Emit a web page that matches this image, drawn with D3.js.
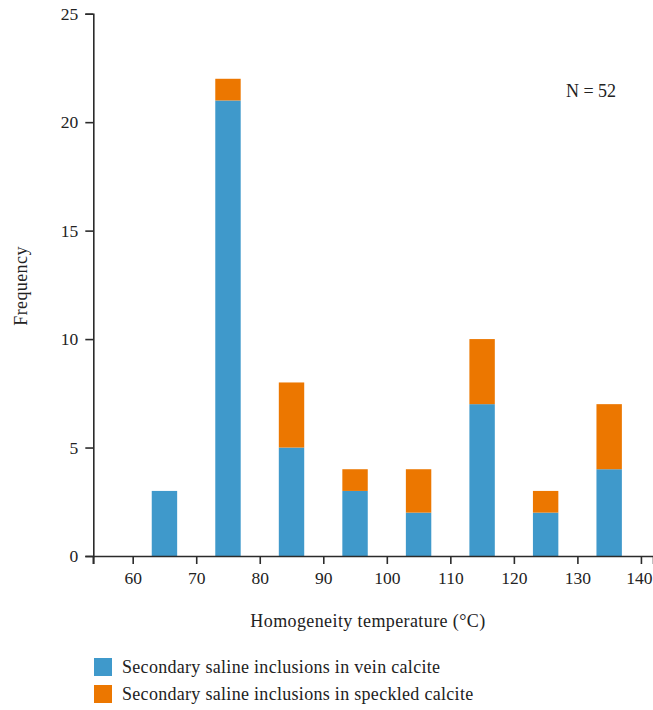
<!DOCTYPE html>
<html>
<head>
<meta charset="utf-8">
<script src="https://cdn.jsdelivr.net/npm/d3@7/dist/d3.min.js"></script>
<style>
  html, body { margin: 0; padding: 0; background: #fff; }
  svg { display: block; font-family: "Liberation Serif", "DejaVu Serif", serif; }
</style>
</head>
<body>
<svg id="chart" width="653" height="710"></svg>
<script>
// Bin centres (°C), 10-degree classes
const binCenters = [65, 75, 85, 95, 105, 115, 125, 135];
// Counts per bin for each inclusion type
const veinCounts = [3, 21, 5, 3, 2, 7, 2, 4];
const speckledCounts = [0, 1, 3, 1, 2, 3, 1, 3];
const xTicks = [60, 70, 80, 90, 100, 110, 120, 130, 140];
const yTicks = [0, 5, 10, 15, 20, 25];
const seriesNames = [
  "Secondary saline inclusions in vein calcite",
  "Secondary saline inclusions in speckled calcite"
];
const seriesColors = ["#3f99cb", "#ec7700"];
const totalLabel = "N = 52";

const svg = d3.select("#chart");
const x = d3.scaleLinear().domain([53.8, 141.9]).range([93.3, 653]);
const y = d3.scaleLinear().domain([0, 25]).range([556, 13.7]);
const barWidth = 4; // in °C

const rows = binCenters.map((c, i) => ({ c, vein: veinCounts[i], speckled: speckledCounts[i] }));
const stack = d3.stack().keys(["vein", "speckled"])(rows);

svg.append("g").selectAll("g")
  .data(stack)
  .join("g")
  .attr("fill", (d, i) => seriesColors[i])
  .selectAll("rect")
  .data(d => d)
  .join("rect")
  .attr("x", d => x(d.data.c - barWidth / 2))
  .attr("width", d => x(d.data.c + barWidth / 2) - x(d.data.c - barWidth / 2))
  .attr("y", d => y(d[1]))
  .attr("height", d => y(d[0]) - y(d[1]));

// Axes
const axisColor = "#2b2b2b";
const xAxis = svg.append("g")
  .attr("transform", `translate(0,${y(0)})`)
  .call(d3.axisBottom(x).tickValues(xTicks).tickSize(8).tickPadding(8).tickFormat(d3.format("d")));
const yAxis = svg.append("g")
  .attr("transform", `translate(${x(53.8)},0)`)
  .call(d3.axisLeft(y).tickValues(yTicks).tickSize(8).tickPadding(7).tickFormat(d3.format("d")));

[xAxis, yAxis].forEach(g => {
  g.select(".domain").attr("stroke", axisColor).attr("stroke-width", 1.6);
  g.selectAll(".tick line").attr("stroke", axisColor).attr("stroke-width", 1.6);
  g.selectAll(".tick text").attr("fill", "#222").attr("font-size", 17.5)
    .attr("font-family", "Liberation Serif, DejaVu Serif, serif");
});
// keep the last x label inside the canvas
xAxis.selectAll(".tick text").filter(d => d === 140).attr("dx", -2);
// small tick at the left end of the x axis
xAxis.append("line").attr("x1", x(53.8)).attr("x2", x(53.8)).attr("y1", 0).attr("y2", 8)
  .attr("stroke", axisColor).attr("stroke-width", 1.6);

// Axis titles
svg.append("text")
  .attr("x", 368).attr("y", 627)
  .attr("text-anchor", "middle")
  .attr("font-size", 18).attr("letter-spacing", 0.4).attr("fill", "#222")
  .text("Homogeneity temperature (°C)");

svg.append("text")
  .attr("transform", "translate(27,286) rotate(-90)")
  .attr("text-anchor", "middle")
  .attr("font-size", 18).attr("letter-spacing", 0.4).attr("fill", "#222")
  .text("Frequency");

svg.append("text")
  .attr("x", 591).attr("y", 97)
  .attr("text-anchor", "middle")
  .attr("font-size", 18).attr("fill", "#222")
  .text(totalLabel);

// Legend
const legend = svg.append("g").attr("transform", "translate(94,658)");
seriesNames.forEach((name, i) => {
  const g = legend.append("g").attr("transform", `translate(0,${i * 27})`);
  g.append("rect").attr("width", 18).attr("height", 18).attr("fill", seriesColors[i]);
  g.append("text").attr("x", 28).attr("y", 14.5)
    .attr("font-size", 18).attr("letter-spacing", 0.3).attr("fill", "#222")
    .text(name);
});
</script>
</body>
</html>
